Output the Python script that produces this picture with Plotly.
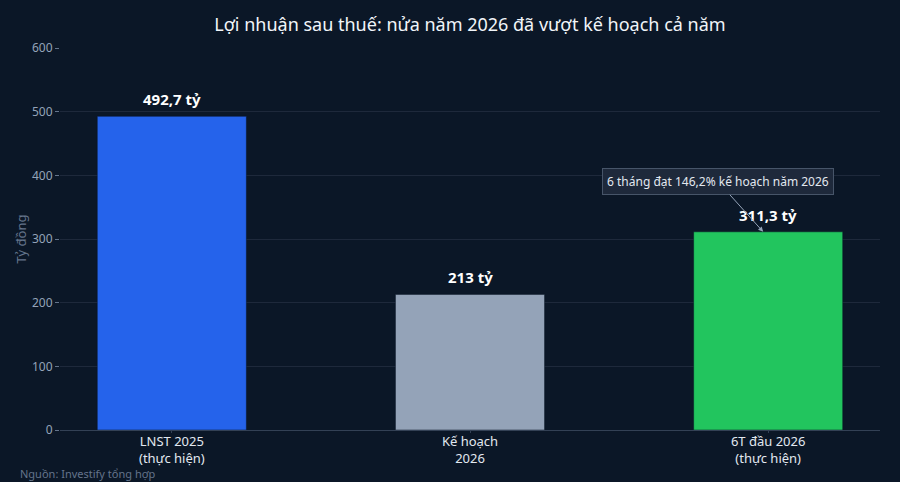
import plotly.graph_objects as go

categories = ["LNST 2025<br>(thực hiện)", "Kế hoạch<br>2026", "6T đầu 2026<br>(thực hiện)"]
values = [492.7, 213, 311.3]
value_labels = ["492,7 tỷ", "213 tỷ", "311,3 tỷ"]
bar_colors = ["#2563eb", "#94a3b8", "#22c55e"]
y_ticks = [0, 100, 200, 300, 400, 500, 600]

bg = "#0b1727"

fig = go.Figure()
fig.add_trace(go.Bar(
    x=categories, y=values,
    marker=dict(color=bar_colors, line=dict(color="#0b1727", width=0.5)),
    width=0.5,
    hoverinfo="skip",
))

# value labels above bars
for c, v, t in zip(categories, values, value_labels):
    fig.add_annotation(x=c, y=v, text="<b>" + t + "</b>", showarrow=False,
                       yanchor="bottom", yshift=5,
                       font=dict(size=15, color="#ffffff"))

fig.add_annotation(
    x=categories[2], y=values[2],
    text="6 tháng đạt 146,2% kế hoạch năm 2026",
    showarrow=True, arrowhead=2, arrowsize=1, arrowwidth=1, arrowcolor="#94a3b8",
    ax=-45, ay=-50, xshift=-5,
    bgcolor="#1e293b", bordercolor="#475569", borderwidth=1, borderpad=4,
    font=dict(size=12, color="#e2e8f0"),
)

fig.add_annotation(
    text="Nguồn: Investify tổng hợp", xref="paper", yref="paper",
    x=-0.051, y=-0.088, xanchor="left", yanchor="top", showarrow=False,
    font=dict(size=11, color="#64748b"),
)

fig.update_layout(
    width=900, height=482,
    paper_bgcolor=bg, plot_bgcolor=bg,
    font=dict(family="Noto Sans", color="#cbd5e1"),
    title=dict(text="Lợi nhuận sau thuế: nửa năm 2026 đã vượt kế hoạch cả năm",
               x=0.5, xref="paper", y=0.948, yref="container", yanchor="middle",
               font=dict(size=18, color="#f1f5f9")),
    margin=dict(l=60, r=20, t=48, b=52, autoexpand=False),
    showlegend=False,
    xaxis=dict(range=[-0.375, 2.375], showgrid=False, showline=True, automargin=False,
               linecolor="#334155", ticks="outside", tickcolor="#334155", ticklen=2,
               ticklabelstandoff=-3,
               tickfont=dict(size=13, color="#e2e8f0")),
    yaxis=dict(range=[0, 600], tickvals=y_ticks, gridcolor="#1e293b", zeroline=False,
               automargin=False,
               ticks="outside", tickcolor="#64748b", ticklen=4,
               tickfont=dict(size=12, color="#94a3b8"),
               title=dict(text="Tỷ đồng", font=dict(size=13, color="#64748b"), standoff=2)),
)

fig.write_html("out.html", config={"displayModeBar": False},
               post_script="document.body.style.margin='0';document.body.style.background='#0b1727';")
